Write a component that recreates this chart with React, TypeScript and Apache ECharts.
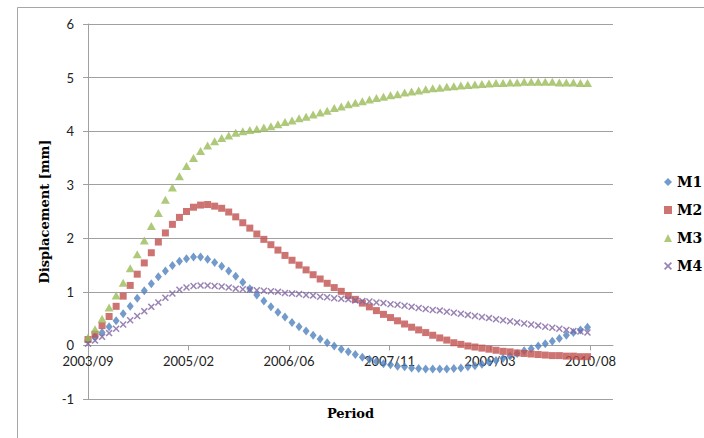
import React, { useEffect, useRef } from 'react';
import * as echarts from 'echarts';

// x-axis tick labels (every 500 days from 2003/09)
const tickLabels = ['2003/09', '2005/02', '2006/06', '2007/11', '2009/03', '2010/08'];
const tickDays = [0, 500, 1000, 1500, 2000, 2500];
const sampleDays = 35; // spacing of observations, days

const seriesNames = ['M1', 'M2', 'M3', 'M4'];

const m1 = [
  0.10, 0.16, 0.24, 0.35, 0.46, 0.59, 0.73, 0.88, 1.02, 1.15,
  1.28, 1.39, 1.49, 1.57, 1.62, 1.65, 1.65, 1.61, 1.55, 1.48,
  1.39, 1.29, 1.18, 1.06, 0.94, 0.83, 0.72, 0.62, 0.53, 0.43,
  0.35, 0.27, 0.19, 0.12, 0.05, -0.01, -0.07, -0.12, -0.17, -0.22,
  -0.26, -0.30, -0.34, -0.36, -0.39, -0.40, -0.42, -0.43, -0.44, -0.44,
  -0.44, -0.44, -0.43, -0.42, -0.40, -0.38, -0.35, -0.31, -0.28, -0.24,
  -0.20, -0.15, -0.10, -0.06, -0.01, 0.03, 0.08, 0.13, 0.19, 0.24,
  0.29, 0.34,
];

const m2 = [
  0.11, 0.21, 0.37, 0.54, 0.73, 0.92, 1.12, 1.33, 1.54, 1.73,
  1.93, 2.10, 2.26, 2.39, 2.50, 2.58, 2.62, 2.63, 2.60, 2.56,
  2.49, 2.40, 2.29, 2.19, 2.08, 1.98, 1.88, 1.78, 1.68, 1.59,
  1.50, 1.41, 1.32, 1.24, 1.16, 1.08, 1.01, 0.93, 0.86, 0.79,
  0.72, 0.65, 0.58, 0.52, 0.46, 0.40, 0.34, 0.29, 0.24, 0.19,
  0.14, 0.10, 0.05, 0.02, -0.01, -0.03, -0.05, -0.07, -0.09, -0.11,
  -0.12, -0.14, -0.15, -0.16, -0.17, -0.18, -0.19, -0.19, -0.20, -0.20,
  -0.21, -0.21,
];

const m3 = [
  0.15, 0.30, 0.50, 0.71, 0.93, 1.17, 1.44, 1.70, 1.96, 2.23,
  2.47, 2.72, 2.95, 3.16, 3.35, 3.50, 3.63, 3.73, 3.81, 3.87,
  3.92, 3.97, 4.00, 4.02, 4.04, 4.07, 4.09, 4.13, 4.17, 4.20,
  4.24, 4.27, 4.31, 4.35, 4.38, 4.43, 4.46, 4.50, 4.53, 4.56,
  4.59, 4.62, 4.64, 4.67, 4.69, 4.72, 4.74, 4.76, 4.78, 4.80,
  4.81, 4.83, 4.84, 4.85, 4.86, 4.87, 4.88, 4.89, 4.90, 4.90,
  4.91, 4.91, 4.92, 4.92, 4.92, 4.92, 4.92, 4.91, 4.91, 4.91,
  4.90, 4.90,
];

const m4 = [
  0.03, 0.09, 0.16, 0.23, 0.31, 0.39, 0.47, 0.55, 0.64, 0.72,
  0.80, 0.89, 0.97, 1.04, 1.08, 1.11, 1.12, 1.12, 1.11, 1.10,
  1.08, 1.06, 1.05, 1.04, 1.03, 1.02, 1.01, 1.00, 0.98, 0.97,
  0.96, 0.94, 0.93, 0.91, 0.90, 0.88, 0.87, 0.86, 0.84, 0.83,
  0.82, 0.80, 0.79, 0.77, 0.76, 0.74, 0.72, 0.70, 0.68, 0.66,
  0.65, 0.63, 0.61, 0.59, 0.57, 0.55, 0.53, 0.51, 0.49, 0.47,
  0.45, 0.43, 0.41, 0.39, 0.37, 0.35, 0.33, 0.31, 0.29, 0.27,
  0.26, 0.24,
];

const Y_MIN = -1;
const Y_MAX = 6;

const COLORS = ['#4F81BD', '#C0504D', '#9BBB59', '#8064A2'];
const GRID_COLOR = '#a0a0a0';
const xSymbol =
  'path://M0,1.5L1.5,0L5,3.5L8.5,0L10,1.5L6.5,5L10,8.5L8.5,10L5,6.5L1.5,10L0,8.5L3.5,5Z';

export default function App() {
  const ref = useRef<HTMLDivElement>(null);

  useEffect(() => {
    document.body.style.margin = '0';
    const chart = echarts.init(ref.current!, null, { renderer: 'svg' });
    const toPts = (vals: number[]) => vals.map((v, i) => [i * sampleDays, v]);
    const labelFmt = (v: number) => {
      const k = tickDays.indexOf(Math.round(v));
      return k >= 0 ? tickLabels[k] : '';
    };
    const titleFont = {
      fontFamily: 'DejaVu Serif',
      fontWeight: 'bold',
      fontSize: 13,
      color: '#000',
    };
    const symbols = ['diamond', 'rect', 'triangle', xSymbol];
    const sizes: any[] = [[7, 9], 7, [9, 8], 7];
    const datas = [m1, m2, m3, m4];

    const gridHeight = 375;
    // lift the horizontal axis from the bottom (y = -1) to y = 0
    const zeroOffset = -(gridHeight * (0 - Y_MIN)) / (Y_MAX - Y_MIN);

    chart.setOption({
      animation: false,
      backgroundColor: '#fff',
      graphic: [
        {
          type: 'rect',
          shape: { x: 17.5, y: 7.5, width: 720, height: 460 },
          style: { fill: 'none', stroke: '#a6a6a6', lineWidth: 1 },
          silent: true,
        },
      ],
      grid: {
        left: 88,
        top: 24,
        width: 525,
        height: gridHeight,
        outerBoundsMode: 'none',
        containLabel: false,
      },
      legend: {
        data: seriesNames,
        orient: 'vertical',
        left: 664,
        top: 175,
        padding: 0,
        itemWidth: 8,
        itemHeight: 8,
        itemGap: 14,
        textStyle: { ...titleFont, fontSize: 14, lineHeight: 14 },
      },
      xAxis: {
        type: 'value',
        min: 0,
        max: 2612,
        interval: 500,
        offset: zeroOffset,
        name: 'Period',
        nameLocation: 'middle',
        nameGap: 62,
        nameTextStyle: titleFont,
        axisLine: { show: true, onZero: false, lineStyle: { color: GRID_COLOR } },
        axisTick: {
          show: true,
          length: 5,
          customValues: tickDays,
          lineStyle: { color: GRID_COLOR },
        },
        axisLabel: {
          customValues: tickDays,
          formatter: labelFmt,
          margin: 9,
          fontFamily: 'Lato',
          fontSize: 13,
          color: '#222',
        },
        splitLine: { show: false },
      },
      yAxis: {
        type: 'value',
        min: Y_MIN,
        max: Y_MAX,
        interval: 1,
        name: 'Displacement [mm]',
        nameLocation: 'middle',
        nameRotate: 90,
        nameGap: 34,
        nameTextStyle: titleFont,
        axisLine: { show: true, onZero: false, lineStyle: { color: GRID_COLOR } },
        axisTick: { show: true, length: 5, lineStyle: { color: GRID_COLOR } },
        axisLabel: {
          margin: 14,
          fontFamily: 'Lato',
          fontSize: 13,
          color: '#222',
        },
        splitLine: { show: true, lineStyle: { color: GRID_COLOR, width: 1 } },
      },
      series: seriesNames.map((name, k) => ({
        name,
        type: 'scatter',
        symbol: symbols[k],
        symbolSize: sizes[k],
        itemStyle: { color: COLORS[k] },
        data: toPts(datas[k]),
      })),
    });
    return () => chart.dispose();
  }, []);

  return <div ref={ref} style={{ width: 704, height: 438 }} />;
}
